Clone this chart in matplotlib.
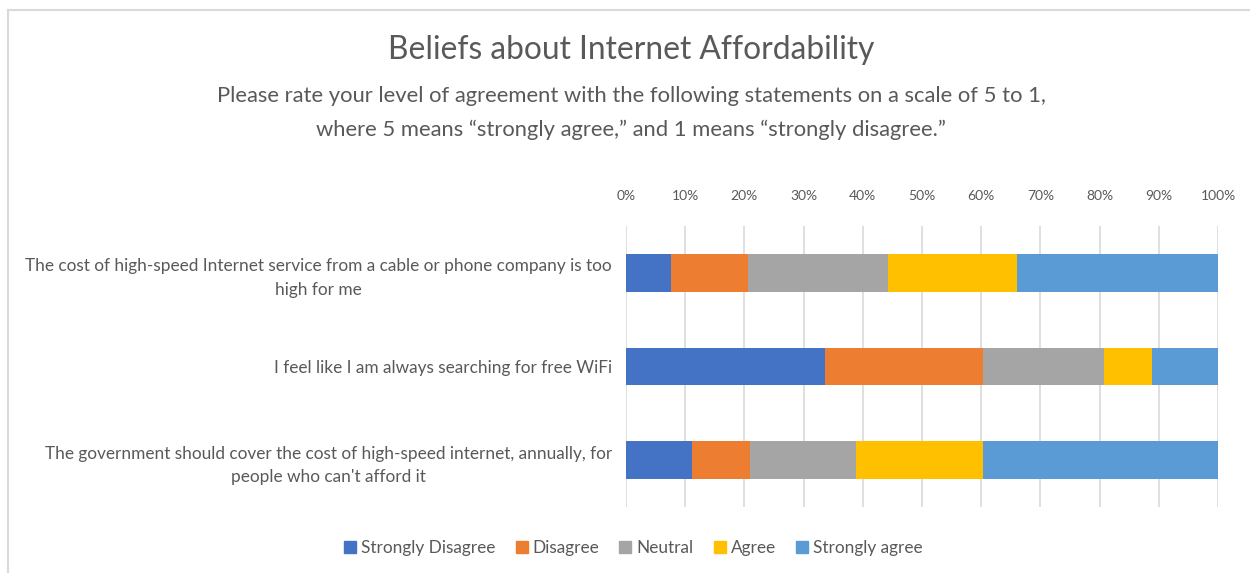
import matplotlib

matplotlib.use("Agg")
import matplotlib.pyplot as plt
from matplotlib.lines import Line2D

plt.rcParams["font.family"] = ["Lato", "DejaVu Sans"]

# survey statements, top to bottom
statements = [
    "The cost of high-speed Internet service from a cable or phone company is too\nhigh for me",
    "I feel like I am always searching for free WiFi",
    "The government should cover the cost of high-speed internet, annually, for\npeople who can't afford it",
]

# share of responses (%) per statement
strongly_disagree = [7.6, 33.6, 11.1]
disagree = [13.0, 26.7, 9.8]
neutral = [23.6, 20.5, 18.0]
agree = [21.8, 8.0, 21.4]
strongly_agree = [34.0, 11.2, 39.7]

series_names = ["Strongly Disagree", "Disagree", "Neutral", "Agree", "Strongly agree"]
series_colors = ["#4472C4", "#ED7D31", "#A5A5A5", "#FFC000", "#5B9BD5"]
x_ticks = list(range(0, 101, 10))

TEXT = "#595959"
GRID = "#D9D9D9"

fig = plt.figure(figsize=(12.5, 5.73), dpi=100)
ax = fig.add_axes([0.5008, 0.1152, 0.4736, 0.4904])

positions = list(range(len(statements)))
left = [0.0] * len(statements)
for name, color, values in zip(
    series_names,
    series_colors,
    [strongly_disagree, disagree, neutral, agree, strongly_agree],
):
    ax.barh(positions, values, left=left, height=0.40, color=color, label=name, zorder=3)
    left = [a + b for a, b in zip(left, values)]

ax.set_xlim(0, 100)
ax.set_ylim(2.5, -0.5)
ax.set_xticks(x_ticks)
ax.set_xticklabels([f"{t}%" for t in x_ticks])
ax.xaxis.tick_top()
ax.tick_params(axis="x", length=0, pad=17, labelsize=10, labelcolor=TEXT)
ax.tick_params(axis="y", length=0, pad=10, labelsize=12.4, labelcolor=TEXT)
ax.set_yticks(positions)
ax.set_yticklabels(statements, multialignment="center", linespacing=1.6)
for lbl in ax.get_yticklabels():
    lbl.set_va("center_baseline")
ax.grid(axis="x", color=GRID, linewidth=1.2, zorder=0)
for spine in ax.spines.values():
    spine.set_visible(False)

fig.text(0.505, 1 - 50 / 573, "Beliefs about Internet Affordability",
         ha="center", va="center", fontsize=22.9, color=TEXT)
fig.text(0.505, 1 - 96 / 573,
         "Please rate your level of agreement with the following statements on a scale of 5 to 1,",
         ha="center", va="center", fontsize=15.8, color=TEXT)
fig.text(0.505, 1 - 130 / 573,
         "where 5 means \u201cstrongly agree,\u201d and 1 means \u201cstrongly disagree.\u201d",
         ha="center", va="center", fontsize=15.8, color=TEXT)

handles = [
    Line2D([], [], marker="s", linestyle="none", markersize=9, color=c, label=n)
    for n, c in zip(series_names, series_colors)
]
fig.legend(handles=handles, loc="center", bbox_to_anchor=(0.507, 1 - 548 / 573),
           ncol=5, frameon=False, fontsize=12.4, labelcolor=TEXT,
           handlelength=0.6, handletextpad=0.35, columnspacing=1.2)

# chart area border (top and left edges)
fig.add_artist(Line2D([8 / 1250, 1.0], [1 - 9.5 / 573] * 2, transform=fig.transFigure,
                      color=GRID, linewidth=1.5))
fig.add_artist(Line2D([8 / 1250] * 2, [0.0, 1 - 9.5 / 573], transform=fig.transFigure,
                      color=GRID, linewidth=1.5))

fig.savefig("out.png", dpi=100, facecolor="white")
